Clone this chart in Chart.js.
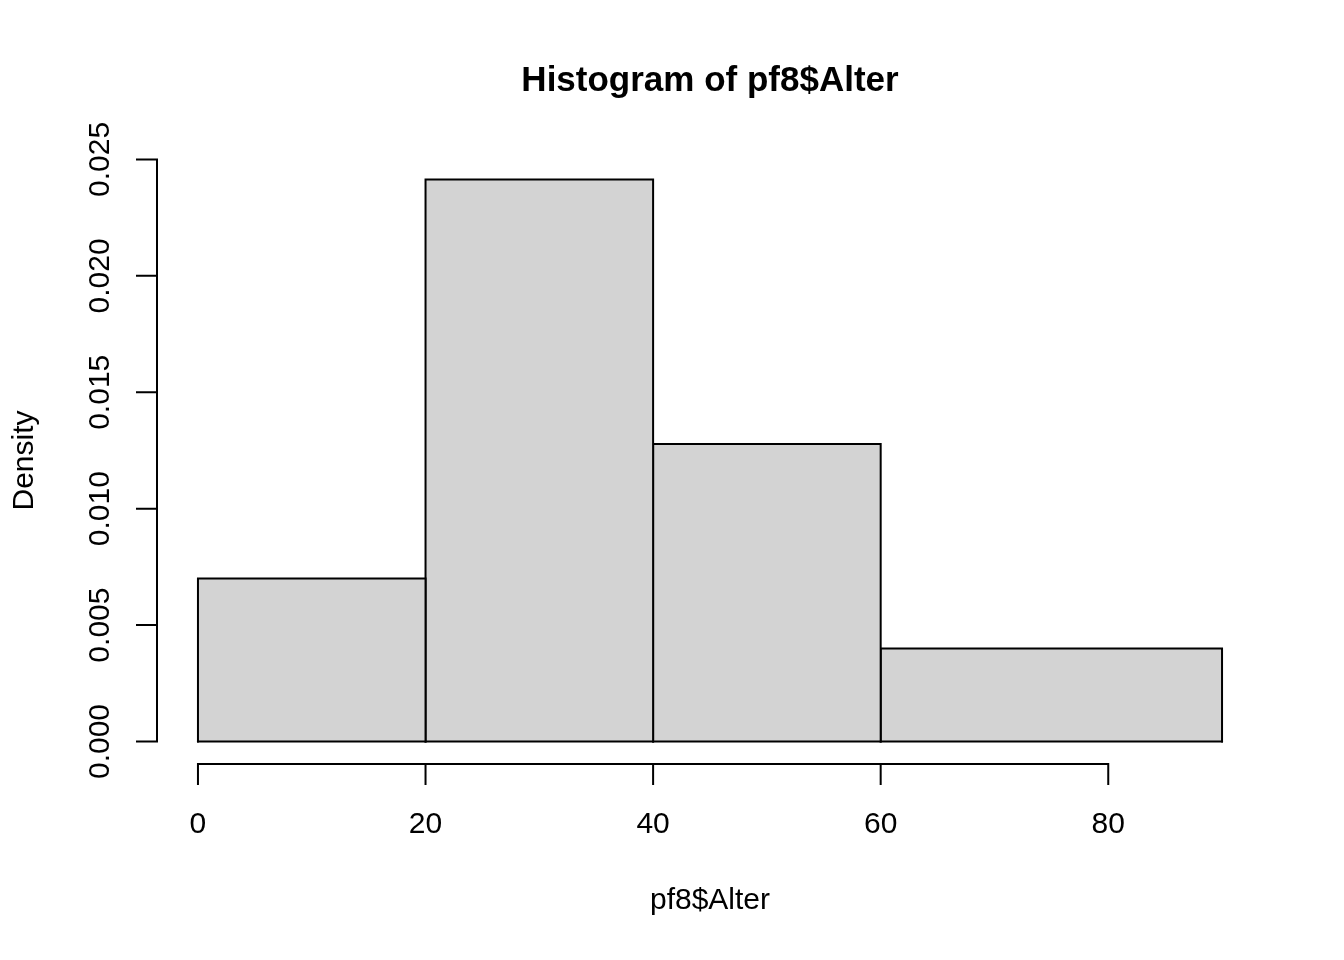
<!DOCTYPE html>
<html>
<head>
<meta charset="utf-8">
<script src="https://cdn.jsdelivr.net/npm/chart.js@4"></script>
<style>
  html, body { margin: 0; padding: 0; background: #fff; }
  #wrap { width: 1344px; height: 960px; }
</style>
</head>
<body>
<div id="wrap"><canvas id="myChart" width="1344" height="960"></canvas></div>
<script>
// histogram bins (pf8$Alter) and their densities
const binEdges = [0, 20, 40, 60, 90];
const densities = [0.0070, 0.02414, 0.01278, 0.0040];

const xTicks = [0, 20, 40, 60, 80];
const xTickLabels = ["0", "20", "40", "60", "80"];
const yTicks = [0, 0.005, 0.010, 0.015, 0.020, 0.025];
const yTickLabels = ["0.000", "0.005", "0.010", "0.015", "0.020", "0.025"];

const titleText = "Histogram of pf8$Alter";
const xTitle = "pf8$Alter";
const yTitle = "Density";

const FONT = "'Liberation Sans', Arial, Helvetica, sans-serif";

// R extends the range by 4% on each side
const xLo = binEdges[0], xHi = binEdges[binEdges.length - 1];
const yHi = Math.max(...densities);
const xPad = (xHi - xLo) * 0.04;
const yPad = yHi * 0.04;

const lineStyle = {
    borderColor: "#000",
    borderWidth: 2,
    borderJoinStyle: "miter",
    borderCapStyle: "square",
    pointRadius: 0,
    tension: 0,
};

// one filled outline per bin
const datasets = densities.map((d, i) => {
    const lo = binEdges[i], hi = binEdges[i + 1];
    return {
        ...lineStyle,
        data: [{ x: lo, y: 0 }, { x: lo, y: d }, { x: hi, y: d }, { x: hi, y: 0 }],
        backgroundColor: "#d3d3d3",
        fill: "origin",
    };
});
// bottom edge of the bars, drawn on top of the fills
datasets.push({
    ...lineStyle,
    data: [{ x: xLo, y: 0 }, { x: xHi, y: 0 }],
    fill: false,
    order: -1,
});

// base-graphics style axes, drawn from the chart's own scales
const rAxes = {
    id: "rAxes",
    afterDraw(chart) {
        const { ctx, chartArea } = chart;
        const xs = chart.scales.x, ys = chart.scales.y;
        ctx.save();
        ctx.strokeStyle = "#000";
        ctx.fillStyle = "#000";
        ctx.lineWidth = 2;
        ctx.lineCap = "square";

        // y axis
        const ax = chartArea.left;
        ctx.beginPath();
        ctx.moveTo(ax, ys.getPixelForValue(yTicks[0]));
        ctx.lineTo(ax, ys.getPixelForValue(yTicks[yTicks.length - 1]));
        yTicks.forEach((t) => {
            const py = ys.getPixelForValue(t);
            ctx.moveTo(ax, py);
            ctx.lineTo(ax - 20, py);
        });
        ctx.stroke();
        ctx.font = "30px " + FONT;
        ctx.textAlign = "center";
        ctx.textBaseline = "middle";
        yTicks.forEach((t, i) => {
            ctx.save();
            ctx.translate(ax - 56, ys.getPixelForValue(t));
            ctx.rotate(-Math.PI / 2);
            ctx.fillText(yTickLabels[i], 0, 0);
            ctx.restore();
        });

        // x axis
        const ay = chartArea.bottom;
        ctx.beginPath();
        ctx.moveTo(xs.getPixelForValue(xTicks[0]), ay);
        ctx.lineTo(xs.getPixelForValue(xTicks[xTicks.length - 1]), ay);
        xTicks.forEach((t) => {
            const px = xs.getPixelForValue(t);
            ctx.moveTo(px, ay);
            ctx.lineTo(px, ay + 20);
        });
        ctx.stroke();
        xTicks.forEach((t, i) => {
            ctx.fillText(xTickLabels[i], xs.getPixelForValue(t), ay + 61);
        });

        // titles
        const cx = (chartArea.left + chartArea.right) / 2;
        ctx.fillText(xTitle, cx, ay + 137);
        ctx.save();
        ctx.translate(25, (chartArea.top + chartArea.bottom) / 2);
        ctx.rotate(-Math.PI / 2);
        ctx.fillText(yTitle, 0, 0);
        ctx.restore();
        ctx.font = "bold 35px " + FONT;
        ctx.fillText(titleText, cx, 81);
        ctx.restore();
    },
};

new Chart(document.getElementById("myChart"), {
    type: "line",
    data: { datasets },
    options: {
        responsive: false,
        animation: false,
        events: [],
        layout: { padding: { left: 157, right: 81, top: 157, bottom: 196 } },
        plugins: {
            legend: { display: false },
            tooltip: { enabled: false },
            title: { display: false },
        },
        scales: {
            x: { type: "linear", display: false, min: xLo - xPad, max: xHi + xPad },
            y: { type: "linear", display: false, min: -yPad, max: yHi + yPad },
        },
    },
    plugins: [rAxes],
});
</script>
</body>
</html>
